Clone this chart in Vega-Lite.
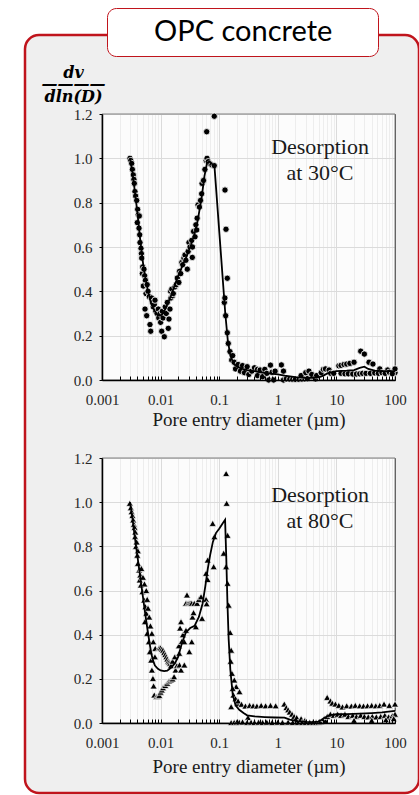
{
  "$schema": "https://vega.github.io/schema/vega-lite/v6.json",
  "autosize": {"type": "none"},
  "padding": {"left": 25, "top": 35, "right": 0, "bottom": 2},
  "width": 394,
  "height": 758,
  "background": "white",
  "view": {"fill": "#efefef", "stroke": "#c0141c", "strokeWidth": 2.5, "cornerRadius": 14},
  "config": {"text": {"font": "Liberation Serif"}},
  "datasets": {
    "pts30": [
      {"d":0.00300,"v":1.00},{"d":0.00310,"v":0.99},{"d":0.00321,"v":0.977},{"d":0.00330,"v":0.95},{"d":0.00342,"v":0.925},{"d":0.00350,"v":0.905},{"d":0.00356,"v":0.887},{"d":0.00365,"v":0.85},{"d":0.00375,"v":0.83},{"d":0.00391,"v":0.81},{"d":0.00406,"v":0.77},{"d":0.00400,"v":0.71},{"d":0.00415,"v":0.745},{"d":0.00428,"v":0.685},{"d":0.00433,"v":0.74},{"d":0.00445,"v":0.62},{"d":0.00440,"v":0.655},{"d":0.00463,"v":0.594},{"d":0.00470,"v":0.57},{"d":0.00476,"v":0.55},{"d":0.00488,"v":0.48},{"d":0.00495,"v":0.51},{"d":0.00507,"v":0.424},{"d":0.00520,"v":0.50},{"d":0.00535,"v":0.47},{"d":0.00542,"v":0.32},{"d":0.00550,"v":0.45},{"d":0.00564,"v":0.39},{"d":0.00579,"v":0.29},{"d":0.00590,"v":0.43},{"d":0.00610,"v":0.40},{"d":0.00641,"v":0.376},{"d":0.00659,"v":0.25},{"d":0.00678,"v":0.22},{"d":0.0070,"v":0.37},{"d":0.0073,"v":0.35},{"d":0.0075,"v":0.33},{"d":0.0078,"v":0.34},{"d":0.00802,"v":0.36},{"d":0.0083,"v":0.31},{"d":0.0087,"v":0.30},{"d":0.00913,"v":0.32},{"d":0.0093,"v":0.28},{"d":0.00977,"v":0.30},{"d":0.0100,"v":0.26},{"d":0.01044,"v":0.22},{"d":0.0107,"v":0.31},{"d":0.0110,"v":0.28},{"d":0.01156,"v":0.195},{"d":0.0120,"v":0.33},{"d":0.0125,"v":0.30},{"d":0.0130,"v":0.35},{"d":0.01352,"v":0.233},{"d":0.0139,"v":0.275},{"d":0.01445,"v":0.32},{"d":0.0148,"v":0.40},{"d":0.01503,"v":0.37},{"d":0.0155,"v":0.41},{"d":0.0160,"v":0.38},{"d":0.01647,"v":0.39},{"d":0.0176,"v":0.42},{"d":0.0185,"v":0.43},{"d":0.01928,"v":0.46},{"d":0.0205,"v":0.44},{"d":0.0210,"v":0.49},{"d":0.02204,"v":0.48},{"d":0.0230,"v":0.53},{"d":0.02384,"v":0.52},{"d":0.0250,"v":0.55},{"d":0.02608,"v":0.564},{"d":0.0270,"v":0.54},{"d":0.02856,"v":0.50},{"d":0.0295,"v":0.58},{"d":0.0305,"v":0.62},{"d":0.03175,"v":0.60},{"d":0.03395,"v":0.63},{"d":0.0350,"v":0.60},{"d":0.03475,"v":0.553},{"d":0.0365,"v":0.67},{"d":0.03866,"v":0.646},{"d":0.0400,"v":0.70},{"d":0.0413,"v":0.677},{"d":0.0420,"v":0.73},{"d":0.0435,"v":0.79},{"d":0.0460,"v":0.78},{"d":0.0480,"v":0.81},{"d":0.0502,"v":0.84},{"d":0.0510,"v":0.887},{"d":0.0540,"v":0.90},{"d":0.0570,"v":0.95},{"d":0.0600,"v":0.99},{"d":0.0620,"v":1.00},{"d":0.0612,"v":1.12},{"d":0.0650,"v":0.985},{"d":0.0700,"v":0.975},{"d":0.0750,"v":0.97},{"d":0.0824,"v":0.967},{"d":0.0824,"v":1.19},{"d":0.1256,"v":0.857},{"d":0.1306,"v":0.68},{"d":0.1375,"v":0.459},{"d":0.1222,"v":0.35},{"d":0.1290,"v":0.29},{"d":0.1250,"v":0.37},{"d":0.1375,"v":0.213},{"d":0.1428,"v":0.165},{"d":0.1527,"v":0.128},{"d":0.1632,"v":0.09},{"d":0.170,"v":0.11},{"d":0.180,"v":0.08},{"d":0.199,"v":0.06},{"d":0.190,"v":0.05},{"d":0.210,"v":0.07},{"d":0.230,"v":0.04},{"d":0.250,"v":0.065},{"d":0.270,"v":0.033},{"d":0.300,"v":0.06},{"d":0.320,"v":0.025},{"d":0.360,"v":0.04},{"d":0.400,"v":0.055},{"d":0.450,"v":0.048},{"d":0.500,"v":0.045},{"d":0.450,"v":0.02},{"d":0.550,"v":0.015},{"d":0.600,"v":0.048},{"d":0.650,"v":0.03},{"d":0.750,"v":0.067},{"d":0.700,"v":0.0},{"d":0.800,"v":0.035},{"d":0.850,"v":0.0},{"d":0.900,"v":0.04},{"d":1.15,"v":0.068},{"d":1.25,"v":0.04},{"d":1.25,"v":0.0},{"d":1.4,"v":0.005},{"d":1.6,"v":0.004},{"d":1.8,"v":0.003},{"d":2.0,"v":0.003},{"d":2.3,"v":0.003},{"d":2.6,"v":0.004},{"d":2.9,"v":0.005},{"d":3.2,"v":0.006},{"d":2.5,"v":0.02},{"d":3.0,"v":0.033},{"d":3.4,"v":0.04},{"d":3.8,"v":0.025},{"d":4.4,"v":0.005},{"d":4.6,"v":0.02},{"d":5.5,"v":0.033},{"d":6.0,"v":0.048},{"d":6.5,"v":0.05},{"d":7.5,"v":0.045},{"d":8.0,"v":0.03},{"d":9.0,"v":0.03},{"d":11,"v":0.064},{"d":12,"v":0.066},{"d":13.5,"v":0.07},{"d":15,"v":0.072},{"d":17,"v":0.075},{"d":20,"v":0.08},{"d":26,"v":0.13},{"d":30,"v":0.117},{"d":36,"v":0.08},{"d":42,"v":0.072},{"d":55,"v":0.05},{"d":75,"v":0.045},{"d":100,"v":0.033},{"d":100,"v":0.05},{"d":12,"v":0.03},{"d":14,"v":0.028},{"d":16,"v":0.028},{"d":19,"v":0.027},{"d":22,"v":0.027},{"d":25,"v":0.028},{"d":28,"v":0.03},{"d":32,"v":0.03},{"d":38,"v":0.03},{"d":45,"v":0.032},{"d":52,"v":0.03},{"d":60,"v":0.033},{"d":68,"v":0.03},{"d":80,"v":0.035},{"d":90,"v":0.028}
    ],
    "line30": [
      {"d":0.0030,"v":1.0},{"d":0.0033,"v":0.94},{"d":0.0036,"v":0.86},{"d":0.0040,"v":0.76},{"d":0.0045,"v":0.63},{"d":0.0050,"v":0.53},{"d":0.0055,"v":0.46},{"d":0.0060,"v":0.41},{"d":0.0065,"v":0.37},{"d":0.0070,"v":0.34},{"d":0.0080,"v":0.31},{"d":0.0090,"v":0.29},{"d":0.0100,"v":0.29},{"d":0.0110,"v":0.30},{"d":0.0120,"v":0.32},{"d":0.0135,"v":0.35},{"d":0.0150,"v":0.38},{"d":0.0170,"v":0.42},{"d":0.0200,"v":0.47},{"d":0.0240,"v":0.52},{"d":0.0280,"v":0.56},{"d":0.0330,"v":0.61},{"d":0.0380,"v":0.66},{"d":0.0430,"v":0.72},{"d":0.0500,"v":0.82},{"d":0.0560,"v":0.92},{"d":0.0620,"v":0.98},{"d":0.0680,"v":0.985},{"d":0.0750,"v":0.975},{"d":0.0830,"v":0.965},{"d":0.1270,"v":0.30},{"d":0.1400,"v":0.18},{"d":0.1550,"v":0.11},{"d":0.1750,"v":0.075},{"d":0.2000,"v":0.06},{"d":0.2500,"v":0.05},{"d":0.3000,"v":0.045},{"d":0.4000,"v":0.04},{"d":0.5000,"v":0.035},{"d":0.7000,"v":0.03},{"d":1.0,"v":0.025},{"d":1.3,"v":0.02},{"d":2.0,"v":0.013},{"d":3.0,"v":0.01},{"d":4.0,"v":0.01},{"d":5.0,"v":0.012},{"d":6.0,"v":0.02},{"d":7.0,"v":0.03},{"d":10,"v":0.04},{"d":15,"v":0.042},{"d":20,"v":0.045},{"d":25,"v":0.055},{"d":30,"v":0.06},{"d":35,"v":0.05},{"d":45,"v":0.042},{"d":60,"v":0.04},{"d":80,"v":0.04},{"d":100,"v":0.04}
    ],
    "pts80": [
      {"d":0.00298,"v":0.995},{"d":0.0031,"v":0.975},{"d":0.0032,"v":0.957},{"d":0.0033,"v":0.94},{"d":0.0034,"v":0.92},{"d":0.0035,"v":0.90},{"d":0.0036,"v":0.886},{"d":0.0037,"v":0.865},{"d":0.00367,"v":0.844},{"d":0.0038,"v":0.80},{"d":0.0039,"v":0.82},{"d":0.0041,"v":0.78},{"d":0.0040,"v":0.76},{"d":0.0041,"v":0.723},{"d":0.0043,"v":0.693},{"d":0.0045,"v":0.67},{"d":0.0044,"v":0.648},{"d":0.0046,"v":0.625},{"d":0.0047,"v":0.70},{"d":0.0049,"v":0.595},{"d":0.0050,"v":0.66},{"d":0.00524,"v":0.557},{"d":0.0053,"v":0.63},{"d":0.0055,"v":0.527},{"d":0.0057,"v":0.497},{"d":0.0057,"v":0.60},{"d":0.0054,"v":0.459},{"d":0.0059,"v":0.56},{"d":0.0059,"v":0.406},{"d":0.0061,"v":0.52},{"d":0.0063,"v":0.368},{"d":0.0064,"v":0.48},{"d":0.00656,"v":0.323},{"d":0.0067,"v":0.44},{"d":0.0069,"v":0.285},{"d":0.0071,"v":0.24},{"d":0.0071,"v":0.406},{"d":0.0074,"v":0.202},{"d":0.0075,"v":0.368},{"d":0.0076,"v":0.168},{"d":0.0078,"v":0.127},{"d":0.0080,"v":0.30},{"d":0.0081,"v":0.338},{"d":0.0085,"v":0.119},{"d":0.0090,"v":0.12},{"d":0.0095,"v":0.125},{"d":0.0100,"v":0.14},{"d":0.0105,"v":0.15},{"d":0.0110,"v":0.16},{"d":0.0120,"v":0.17},{"d":0.0130,"v":0.18},{"d":0.0140,"v":0.19},{"d":0.0150,"v":0.195},{"d":0.0160,"v":0.20},{"d":0.0170,"v":0.21},{"d":0.0095,"v":0.34},{"d":0.0100,"v":0.34},{"d":0.0105,"v":0.335},{"d":0.0110,"v":0.33},{"d":0.0115,"v":0.32},{"d":0.0120,"v":0.31},{"d":0.0125,"v":0.30},{"d":0.0130,"v":0.29},{"d":0.0135,"v":0.28},{"d":0.0140,"v":0.275},{"d":0.0145,"v":0.27},{"d":0.0150,"v":0.26},{"d":0.0160,"v":0.28},{"d":0.0175,"v":0.30},{"d":0.0180,"v":0.24},{"d":0.0190,"v":0.26},{"d":0.0208,"v":0.316},{"d":0.0205,"v":0.35},{"d":0.0210,"v":0.263},{"d":0.0215,"v":0.43},{"d":0.0223,"v":0.459},{"d":0.0223,"v":0.24},{"d":0.0230,"v":0.37},{"d":0.0240,"v":0.40},{"d":0.0254,"v":0.368},{"d":0.0254,"v":0.263},{"d":0.0271,"v":0.42},{"d":0.0271,"v":0.542},{"d":0.0282,"v":0.58},{"d":0.0295,"v":0.542},{"d":0.0309,"v":0.542},{"d":0.0309,"v":0.323},{"d":0.0325,"v":0.542},{"d":0.0340,"v":0.542},{"d":0.0340,"v":0.368},{"d":0.0350,"v":0.48},{"d":0.0365,"v":0.50},{"d":0.0376,"v":0.542},{"d":0.0400,"v":0.436},{"d":0.0419,"v":0.542},{"d":0.0450,"v":0.56},{"d":0.0490,"v":0.572},{"d":0.0510,"v":0.474},{"d":0.0597,"v":0.56},{"d":0.0610,"v":0.54},{"d":0.0597,"v":0.678},{"d":0.0636,"v":0.738},{"d":0.0636,"v":0.65},{"d":0.0805,"v":0.708},{"d":0.0774,"v":0.904},{"d":0.0828,"v":0.844},{"d":0.1194,"v":0.769},{"d":0.1313,"v":1.13},{"d":0.134,"v":0.995},{"d":0.139,"v":0.85},{"d":0.131,"v":0.708},{"d":0.139,"v":0.633},{"d":0.145,"v":0.534},{"d":0.154,"v":0.41},{"d":0.16,"v":0.33},{"d":0.157,"v":0.28},{"d":0.165,"v":0.225},{"d":0.181,"v":0.195},{"d":0.195,"v":0.165},{"d":0.222,"v":0.142},{"d":0.17,"v":0.157},{"d":0.175,"v":0.127},{"d":0.16,"v":0.074},{"d":0.207,"v":0.089},{"d":0.19,"v":0.11},{"d":0.21,"v":0.1},{"d":0.24,"v":0.085},{"d":0.28,"v":0.077},{"d":0.33,"v":0.08},{"d":0.38,"v":0.078},{"d":0.44,"v":0.077},{"d":0.52,"v":0.08},{"d":0.62,"v":0.078},{"d":0.75,"v":0.08},{"d":0.92,"v":0.078},{"d":1.29,"v":0.086},{"d":1.4,"v":0.07},{"d":1.5,"v":0.06},{"d":1.6,"v":0.05},{"d":1.75,"v":0.04},{"d":1.9,"v":0.03},{"d":2.1,"v":0.025},{"d":2.5,"v":0.02},{"d":2.9,"v":0.012},{"d":0.31,"v":0.025},{"d":0.16,"v":0.002},{"d":0.18,"v":0.003},{"d":0.2,"v":0.004},{"d":0.22,"v":0.004},{"d":0.25,"v":0.005},{"d":0.3,"v":0.003},{"d":0.35,"v":0.004},{"d":0.4,"v":0.003},{"d":0.47,"v":0.004},{"d":0.55,"v":0.003},{"d":0.65,"v":0.004},{"d":0.8,"v":0.003},{"d":1.0,"v":0.004},{"d":1.2,"v":0.003},{"d":1.5,"v":0.004},{"d":1.8,"v":0.003},{"d":2.2,"v":0.003},{"d":2.6,"v":0.003},{"d":3.0,"v":0.003},{"d":3.5,"v":0.003},{"d":4.0,"v":0.003},{"d":4.5,"v":0.003},{"d":5.0,"v":0.004},{"d":5.5,"v":0.006},{"d":6.2,"v":0.02},{"d":6.96,"v":0.116},{"d":7.9,"v":0.10},{"d":8.5,"v":0.09},{"d":9.6,"v":0.086},{"d":11,"v":0.08},{"d":12.7,"v":0.073},{"d":15,"v":0.078},{"d":18,"v":0.077},{"d":21,"v":0.08},{"d":25,"v":0.078},{"d":29,"v":0.077},{"d":34,"v":0.078},{"d":40,"v":0.08},{"d":47,"v":0.078},{"d":55,"v":0.08},{"d":65,"v":0.086},{"d":80,"v":0.08},{"d":100,"v":0.086},{"d":6.5,"v":0.01},{"d":7.0,"v":0.03},{"d":7.9,"v":0.04},{"d":9,"v":0.035},{"d":10.5,"v":0.04},{"d":12,"v":0.035},{"d":14,"v":0.04},{"d":16,"v":0.03},{"d":19,"v":0.035},{"d":22,"v":0.03},{"d":26,"v":0.035},{"d":30,"v":0.03},{"d":35,"v":0.028},{"d":41,"v":0.03},{"d":48,"v":0.028},{"d":57,"v":0.03},{"d":67,"v":0.035},{"d":78,"v":0.028},{"d":90,"v":0.033},{"d":100,"v":0.04},{"d":20,"v":0.012},{"d":40,"v":0.012},{"d":70,"v":0.015},{"d":95,"v":0.02}
    ],
    "line80": [
      {"d":0.0030,"v":1.0},{"d":0.0033,"v":0.93},{"d":0.0036,"v":0.85},{"d":0.0040,"v":0.76},{"d":0.0045,"v":0.66},{"d":0.0050,"v":0.57},{"d":0.0055,"v":0.49},{"d":0.0060,"v":0.42},{"d":0.0065,"v":0.36},{"d":0.0070,"v":0.31},{"d":0.0075,"v":0.28},{"d":0.0080,"v":0.26},{"d":0.0090,"v":0.245},{"d":0.0100,"v":0.238},{"d":0.0115,"v":0.235},{"d":0.0130,"v":0.237},{"d":0.0150,"v":0.25},{"d":0.0175,"v":0.27},{"d":0.0200,"v":0.30},{"d":0.0230,"v":0.36},{"d":0.0270,"v":0.41},{"d":0.0320,"v":0.43},{"d":0.0380,"v":0.44},{"d":0.0450,"v":0.48},{"d":0.0520,"v":0.54},{"d":0.0580,"v":0.62},{"d":0.0640,"v":0.70},{"d":0.0700,"v":0.76},{"d":0.0780,"v":0.82},{"d":0.0880,"v":0.86},{"d":0.1000,"v":0.88},{"d":0.1150,"v":0.905},{"d":0.1260,"v":0.92},{"d":0.1320,"v":0.75},{"d":0.1380,"v":0.55},{"d":0.1450,"v":0.38},{"d":0.1550,"v":0.24},{"d":0.1700,"v":0.13},{"d":0.1900,"v":0.08},{"d":0.2200,"v":0.06},{"d":0.2600,"v":0.045},{"d":0.3000,"v":0.035},{"d":0.4000,"v":0.03},{"d":0.6000,"v":0.027},{"d":0.9000,"v":0.025},{"d":1.3,"v":0.024},{"d":1.6,"v":0.015},{"d":2.2,"v":0.008},{"d":3.0,"v":0.005},{"d":4.0,"v":0.004},{"d":5.0,"v":0.006},{"d":6.0,"v":0.02},{"d":7.5,"v":0.035},{"d":10,"v":0.04},{"d":15,"v":0.04},{"d":25,"v":0.042},{"d":40,"v":0.045},{"d":60,"v":0.048},{"d":100,"v":0.055}
    ]
  },
  "resolve": {"scale": {"x": "independent", "y": "independent"}, "axis": {"x": "independent", "y": "independent"}},
  "layer": [
    {
      "data": {"values": [{}]},
      "mark": {"type": "rect", "fill": "white", "fillOpacity": 0.8, "stroke": "#7f7f7f", "strokeWidth": 1},
      "encoding": {
        "x": {"datum": 0.001, "type": "quantitative", "scale": {"type": "log", "domain": [0.001, 100], "range": [77, 370], "nice": false}, "axis": null},
        "x2": {"datum": 100},
        "y": {"datum": 0, "type": "quantitative", "scale": {"domain": [0, 1.2], "range": [345, 79], "nice": false}, "axis": null},
        "y2": {"datum": 1.2}
      }
    },
    {
      "data": {"name": "pts30"},
      "mark": {"type": "point", "shape": "circle", "filled": true, "stroke": "white", "strokeWidth": 0.8, "size": 40, "opacity": 1},
      "encoding": {
        "x": {"field": "d", "type": "quantitative",
          "scale": {"type": "log", "domain": [0.001, 100], "range": [77, 370], "nice": false},
          "axis": {
            "orient": "top", "offset": -345, "zindex": 1,
            "values": [0.001,0.002,0.003,0.004,0.005,0.006,0.007,0.008,0.009,0.01,0.02,0.03,0.04,0.05,0.06,0.07,0.08,0.09,0.1,0.2,0.3,0.4,0.5,0.6,0.7,0.8,0.9,1,2,3,4,5,6,7,8,9,10,20,30,40,50,60,70,80,90,100],
            "format": "~g",
            "labelExpr": "indexof([0.001,0.01,0.1,1,10,100], datum.value) >= 0 ? datum.label : ''",
            "labelFont": "Liberation Serif", "labelFontSize": 15, "labelColor": "#262626", "labelBaseline": "top", "labelPadding": -16.5, "labelFlush": false, "labelOverlap": false,
            "ticks": true, "tickSize": 4, "tickColor": "black", "tickWidth": 1,
            "domainColor": "black", "domainWidth": 1.5, "grid": false,
            "title": "Pore entry diameter (µm)", "titleFont": "Liberation Serif", "titleFontSize": 19, "titleFontWeight": "normal", "titleColor": "#1a1a1a",
            "titleX": 223.5, "titleY": 30.5, "titleAlign": "center", "titleBaseline": "top", "titleAngle": 0
          }},
        "y": {"field": "v", "type": "quantitative",
          "scale": {"domain": [0, 1.2], "range": [345, 79], "nice": false},
          "axis": {
            "orient": "left", "offset": -77, "zindex": 1,
            "values": [0, 0.2, 0.4, 0.6, 0.8, 1, 1.2], "format": ".1f",
            "labelFont": "Liberation Serif", "labelFontSize": 15, "labelColor": "#262626", "labelPadding": 7,
            "ticks": true, "tickSize": 3, "tickColor": "black", "domainColor": "black", "domainWidth": 1.5, "grid": false,
            "title": ["dv", "————", "dln(D)"], "titleAngle": 0, "titleX": -29, "titleY": 42, "titleAlign": "center", "titleBaseline": "alphabetic",
            "titleFont": "DejaVu Serif", "titleFontSize": 16, "titleFontStyle": "italic", "titleFontWeight": "bold", "titleLineHeight": 12, "titleColor": "black"
          }},
        "color": {"datum": "OPC concrete", "scale": {"range": ["black"]},
          "legend": {
            "orient": "none", "legendX": 82, "legendY": -27, "title": null,
            "fillColor": "white", "strokeColor": "#c0141c", "cornerRadius": 9, "padding": 9,
            "symbolOpacity": 0, "symbolSize": 400, "symbolStrokeWidth": 0, "symbolOffset": 228,
            "labelFont": "Lato", "labelFontSize": 29, "labelColor": "black", "labelOffset": -219, "labelLimit": 500
          }}
      }
    },
    {
      "data": {"name": "line30"},
      "mark": {"type": "line", "color": "black", "strokeWidth": 1.8},
      "encoding": {
        "x": {"field": "d", "type": "quantitative", "scale": {"type": "log", "domain": [0.001, 100], "range": [77, 370], "nice": false},
          "axis": {"orient": "top", "offset": -345, "zindex": 0, "values": [0.001,0.002,0.003,0.004,0.005,0.006,0.007,0.008,0.009,0.01,0.02,0.03,0.04,0.05,0.06,0.07,0.08,0.09,0.1,0.2,0.3,0.4,0.5,0.6,0.7,0.8,0.9,1,2,3,4,5,6,7,8,9,10,20,30,40,50,60,70,80,90,100],
            "labels": false, "ticks": false, "domain": false, "title": null,
            "grid": true, "gridWidth": 1, "gridColor": {"condition": {"test": "indexof([0.001,0.01,0.1,1,10,100], datum.value) >= 0", "value": "#4a4a4a"}, "value": "#a6a6a6"}}},
        "y": {"field": "v", "type": "quantitative", "scale": {"domain": [0, 1.2], "range": [345, 79], "nice": false},
          "axis": {"orient": "left", "offset": -77, "zindex": 0, "values": [0, 0.2, 0.4, 0.6, 0.8, 1, 1.2],
            "labels": false, "ticks": false, "domain": false, "title": null,
            "grid": true, "gridWidth": 1, "gridColor": "#4a4a4a"}}
      }
    },
    {
      "data": {"values": [{"label": "Desorption\nat 30°C"}]},
      "mark": {"type": "text", "lineBreak": "\n", "font": "Liberation Serif", "fontSize": 22, "color": "#1a1a1a", "align": "center", "baseline": "top", "lineHeight": 26},
      "encoding": {
        "x": {"datum": 5.25, "type": "quantitative", "scale": {"type": "log", "domain": [0.001, 100], "range": [77, 370], "nice": false}, "axis": null},
        "y": {"datum": 1.096, "type": "quantitative", "scale": {"domain": [0, 1.2], "range": [345, 79], "nice": false}, "axis": null},
        "text": {"field": "label"}
      }
    },
    {
      "data": {"values": [{}]},
      "mark": {"type": "rect", "fill": "white", "fillOpacity": 0.8, "stroke": "#7f7f7f", "strokeWidth": 1},
      "encoding": {
        "x": {"datum": 0.001, "type": "quantitative", "scale": {"type": "log", "domain": [0.001, 100], "range": [77, 370], "nice": false}, "axis": null},
        "x2": {"datum": 100},
        "y": {"datum": 0, "type": "quantitative", "scale": {"domain": [0, 1.2], "range": [688, 423], "nice": false}, "axis": null},
        "y2": {"datum": 1.2}
      }
    },
    {
      "data": {"name": "pts80"},
      "mark": {"type": "point", "shape": "triangle-up", "filled": true, "fill": "black", "stroke": "white", "strokeWidth": 0.7, "size": 50, "opacity": 1},
      "encoding": {
        "x": {"field": "d", "type": "quantitative",
          "scale": {"type": "log", "domain": [0.001, 100], "range": [77, 370], "nice": false},
          "axis": {
            "orient": "top", "offset": -688, "zindex": 1,
            "values": [0.001,0.002,0.003,0.004,0.005,0.006,0.007,0.008,0.009,0.01,0.02,0.03,0.04,0.05,0.06,0.07,0.08,0.09,0.1,0.2,0.3,0.4,0.5,0.6,0.7,0.8,0.9,1,2,3,4,5,6,7,8,9,10,20,30,40,50,60,70,80,90,100],
            "format": "~g",
            "labelExpr": "indexof([0.001,0.01,0.1,1,10,100], datum.value) >= 0 ? datum.label : ''",
            "labelFont": "Liberation Serif", "labelFontSize": 15, "labelColor": "#262626", "labelBaseline": "top", "labelPadding": -16.5, "labelFlush": false, "labelOverlap": false,
            "ticks": true, "tickSize": 4, "tickColor": "black", "tickWidth": 1,
            "domainColor": "black", "domainWidth": 1.5, "grid": false,
            "title": "Pore entry diameter (µm)", "titleFont": "Liberation Serif", "titleFontSize": 19, "titleFontWeight": "normal", "titleColor": "#1a1a1a",
            "titleX": 223.5, "titleY": 34.5, "titleAlign": "center", "titleBaseline": "top", "titleAngle": 0
          }},
        "y": {"field": "v", "type": "quantitative",
          "scale": {"domain": [0, 1.2], "range": [688, 423], "nice": false},
          "axis": {
            "orient": "left", "offset": -77, "zindex": 1,
            "values": [0, 0.2, 0.4, 0.6, 0.8, 1, 1.2], "format": ".1f",
            "labelFont": "Liberation Serif", "labelFontSize": 15, "labelColor": "#262626", "labelPadding": 7,
            "ticks": true, "tickSize": 3, "tickColor": "black", "domainColor": "black", "domainWidth": 1.5, "grid": false,
            "title": null
          }}
      }
    },
    {
      "data": {"name": "line80"},
      "mark": {"type": "line", "color": "black", "strokeWidth": 1.8},
      "encoding": {
        "x": {"field": "d", "type": "quantitative", "scale": {"type": "log", "domain": [0.001, 100], "range": [77, 370], "nice": false},
          "axis": {"orient": "top", "offset": -688, "zindex": 0, "values": [0.001,0.002,0.003,0.004,0.005,0.006,0.007,0.008,0.009,0.01,0.02,0.03,0.04,0.05,0.06,0.07,0.08,0.09,0.1,0.2,0.3,0.4,0.5,0.6,0.7,0.8,0.9,1,2,3,4,5,6,7,8,9,10,20,30,40,50,60,70,80,90,100],
            "labels": false, "ticks": false, "domain": false, "title": null,
            "grid": true, "gridWidth": 1, "gridColor": {"condition": {"test": "indexof([0.001,0.01,0.1,1,10,100], datum.value) >= 0", "value": "#4a4a4a"}, "value": "#a6a6a6"}}},
        "y": {"field": "v", "type": "quantitative", "scale": {"domain": [0, 1.2], "range": [688, 423], "nice": false},
          "axis": {"orient": "left", "offset": -77, "zindex": 0, "values": [0, 0.2, 0.4, 0.6, 0.8, 1, 1.2],
            "labels": false, "ticks": false, "domain": false, "title": null,
            "grid": true, "gridWidth": 1, "gridColor": "#4a4a4a"}}
      }
    },
    {
      "data": {"values": [{"label": "Desorption\nat 80°C"}]},
      "mark": {"type": "text", "lineBreak": "\n", "font": "Liberation Serif", "fontSize": 22, "color": "#1a1a1a", "align": "center", "baseline": "top", "lineHeight": 26},
      "encoding": {
        "x": {"datum": 5.25, "type": "quantitative", "scale": {"type": "log", "domain": [0.001, 100], "range": [77, 370], "nice": false}, "axis": null},
        "y": {"datum": 1.078, "type": "quantitative", "scale": {"domain": [0, 1.2], "range": [688, 423], "nice": false}, "axis": null},
        "text": {"field": "label"}
      }
    }
  ]
}
